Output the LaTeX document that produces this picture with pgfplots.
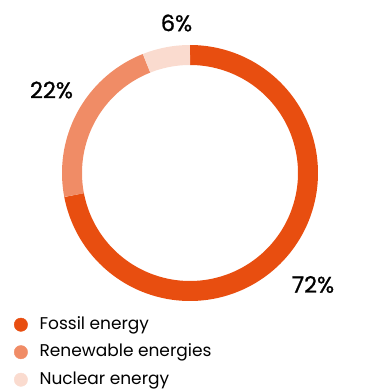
\documentclass[border=0pt]{standalone}
\usepackage{pgfplots}
\pgfplotsset{compat=1.18}
\usepackage{fontspec}
\setmainfont{Poppins}
\newfontfamily\pctfont{Poppins}[FakeBold=1]
\definecolor{fossil}{HTML}{E84E10}
\definecolor{renew}{HTML}{F08C66}
\definecolor{nuclear}{HTML}{FADBCF}
\begin{document}
\begin{tikzpicture}
\begin{axis}[
  scale only axis, width=373pt, height=389pt,
  xmin=0, xmax=373, ymin=0, ymax=389,
  axis lines=none, clip=false,
  legend style={draw=none, fill=none, at={(axis cs:14,73)}, anchor=north west,
    font=\fontsize{17}{20}\selectfont, row sep=10.5pt, inner sep=0pt,
    nodes={inner sep=0pt, text height=13pt, text depth=4pt},
    /tikz/every odd column/.append style={column sep=12pt}},
  legend cell align=left,
]
% percentages: fossil 72, renewable 22, nuclear 6 (clockwise from top)
\addplot[domain=0:72, samples=200, line width=20pt, color=fossil, forget plot]
  ({190+118*sin(3.6*x)},{216+118*cos(3.6*x)});
\addplot[domain=72:94, samples=80, line width=20pt, color=renew, forget plot]
  ({190+118*sin(3.6*x)},{216+118*cos(3.6*x)});
\addplot[domain=94:100, samples=30, line width=20pt, color=nuclear, forget plot]
  ({190+118*sin(3.6*x)},{216+118*cos(3.6*x)});
\addlegendimage{only marks, mark=*, mark size=6.7pt, color=fossil}
\addlegendentry{Fossil energy}
\addlegendimage{only marks, mark=*, mark size=6.7pt, color=renew}
\addlegendentry{Renewable energies}
\addlegendimage{only marks, mark=*, mark size=6.7pt, color=nuclear}
\addlegendentry{Nuclear energy}
\node[font=\pctfont\fontsize{22.5}{26}\selectfont] at (axis cs:176.5,366) {6\%};
\node[font=\pctfont\fontsize{22.5}{26}\selectfont] at (axis cs:51.5,299) {22\%};
\node[font=\pctfont\fontsize{22.5}{26}\selectfont] at (axis cs:313,104.5) {72\%};
\end{axis}
\pgfresetboundingbox
\path (0,0) rectangle (373pt,389pt);
\end{tikzpicture}
\end{document}
